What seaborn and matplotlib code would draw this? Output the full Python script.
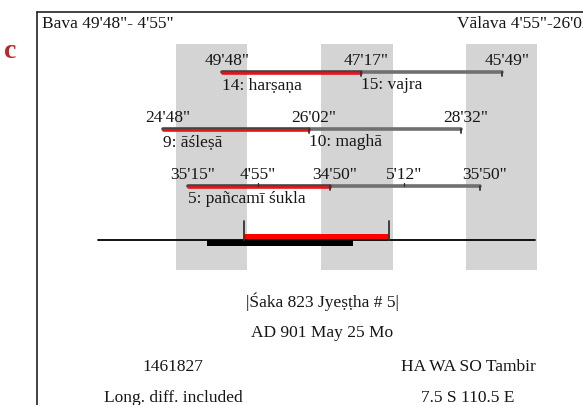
import pandas as pd
import matplotlib.pyplot as plt
import seaborn as sns
from matplotlib.lines import Line2D

# hours from local midnight of the civil day (x axis)
night_start = [-5.1, 18.75, 42.6]
night_end = [6.65, 30.5, 54.3]

# yoga row
yoga_times = [2.5, 25.3, 48.5]
yoga_labels = ["49'48\"", "47'17\"", "45'49\""]
yoga_names = ["14: harṣaṇa", "15: vajra"]

# nakshatra row
naks_times = [-7.2, 16.8, 41.8]
naks_labels = ["24'48\"", "26'02\"", "28'32\""]
naks_names = ["9: āśleṣā", "10: maghā"]

# tithi row (with karana boundaries)
tithi_times = [-3.1, 20.2, 44.9]
tithi_labels = ["35'15\"", "34'50\"", "35'50\""]
tithi_names = ["5: pañcamī śukla"]
karana_times = [8.4, 32.4]
karana_labels = ["4'55\"", "5'12\""]

# day bars
axis_span = [-17.9, 53.9]
civil_day = [0.0, 24.0]
solar_day = [6.0, 30.0]

sns.set_theme(style="white")
plt.rcParams["font.family"] = ["Liberation Serif", "DejaVu Serif"]

fig = plt.figure(figsize=(5.83, 4.06), dpi=100)
ax = fig.add_axes([0, 0, 1, 1])
ax.set_xlim(-34.03, 61.81)
ax.set_ylim(406, 0)
ax.axis("off")

# night bands
for a, b in zip(night_start, night_end):
    ax.fill_between([a, b], 45, 271, color="#d4d4d4", lw=0, zorder=0)

fs = 12.5
ink = "#161616"
red = "#e8141a"
dark = "#707070"


def draw_row(times, labels, names, y):
    rows = []
    for i in range(len(times) - 1):
        rows.append({"x": times[i], "y": y, "seg": i})
        rows.append({"x": times[i + 1], "y": y, "seg": i})
    df = pd.DataFrame(rows)
    sns.lineplot(data=df[df.seg > 0], x="x", y="y", units="seg", estimator=None,
                 color=dark, lw=2.6, ax=ax, zorder=3)
    sns.lineplot(data=df[df.seg == 0], x="x", y="y", estimator=None,
                 color="#444444", lw=2.6, ax=ax, zorder=3)
    sns.lineplot(x=[times[0], times[1]], y=[y + 1.0, y + 1.0], estimator=None,
                 color=red, lw=1.9, ax=ax, zorder=4)
    for t in times[1:]:
        ax.plot([t, t], [y, y + 4], color="#333333", lw=1.3, zorder=5)
    for t, lab in zip(times, labels):
        ax.annotate(lab, (t, y - 12), xytext=(3.5, 0), textcoords="offset points",
                    ha="center", va="center", fontsize=fs, color=ink)
    for t, nm in zip(times, names):
        ax.text(t, y + 12, nm, ha="left", va="center", fontsize=fs, color=ink)


draw_row(yoga_times, yoga_labels, yoga_names, 73)
draw_row(naks_times, naks_labels, naks_names, 130)
draw_row(tithi_times, tithi_labels, tithi_names, 187)
for t, lab in zip(karana_times, karana_labels):
    ax.plot([t, t], [187, 184], color="#333333", lw=1.0, zorder=5)
    ax.annotate(lab, (t, 175), xytext=(0, 0), textcoords="offset points",
                ha="center", va="center", fontsize=fs, color=ink)

# bottom day line
sns.lineplot(x=axis_span, y=[240.5, 240.5], color="black", lw=1.3, ax=ax, zorder=3)
ax.fill_between(civil_day, 241, 246.5, color="black", lw=0, zorder=4)
ax.fill_between(solar_day, 234.5, 240, color="#ff0000", lw=0, zorder=4)
for t in solar_day:
    ax.plot([t, t], [222, 240.5], color="#333333", lw=1.3, zorder=5)

# frame
fig.add_artist(Line2D([37 / 583, 37 / 583], [0, 1 - 13 / 406], color="#222222", lw=1.2))
fig.add_artist(Line2D([37 / 583, 1], [1 - 13 / 406, 1 - 13 / 406], color="#222222", lw=1.2))

fig.text(42 / 583, 1 - 24 / 406, "Bava 49'48\"- 4'55\"", fontsize=fs, va="center", color=ink)
fig.text(457 / 583, 1 - 24 / 406, "Vālava 4'55\"-26'02\"", fontsize=fs, va="center", color=ink)
fig.text(10 / 583, 1 - 51 / 406, "c", fontsize=20, fontweight="bold", color="#c4222b",
         ha="center", va="center")

fig.text(322 / 583, 1 - 302 / 406, "|Śaka 823 Jyeṣṭha # 5|", fontsize=fs, ha="center", va="center", color=ink)
fig.text(322 / 583, 1 - 333 / 406, "AD 901 May 25 Mo", fontsize=fs, ha="center", va="center", color=ink)
fig.text(173 / 583, 1 - 367 / 406, "1461827", fontsize=fs, ha="center", va="center", color=ink)
fig.text(468 / 583, 1 - 367 / 406, "HA WA SO Tambir", fontsize=fs, ha="center", va="center", color=ink)
fig.text(173 / 583, 1 - 398 / 406, "Long. diff. included", fontsize=fs, ha="center", va="center", color=ink)
fig.text(468 / 583, 1 - 398 / 406, "7.5 S 110.5 E", fontsize=fs, ha="center", va="center", color=ink)

plt.savefig("out.png", dpi=100)
